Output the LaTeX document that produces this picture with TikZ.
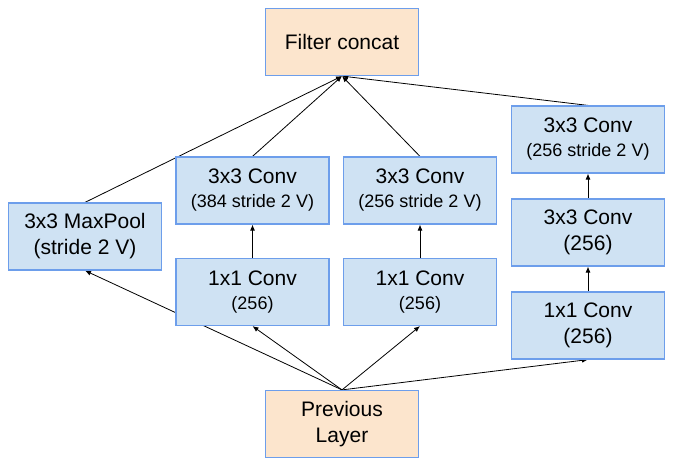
\documentclass[tikz,border=0pt]{standalone}
\usepackage{fontspec}
\setmainfont{Liberation Sans}
\usetikzlibrary{arrows.meta,backgrounds}
\definecolor{boxblue}{HTML}{CFE2F3}
\definecolor{boxorange}{HTML}{FCE5CD}
\definecolor{edgeblue}{HTML}{6D9EEB}
\newcommand{\bigtxt}{\fontsize{21}{26}\selectfont}
\newcommand{\smalltxt}{\fontsize{18}{24}\selectfont}
\tikzset{
  layer/.style={draw=edgeblue, line width=1.2pt, fill=boxblue, minimum width=153pt, minimum height=67pt, inner sep=0pt, align=center, font=\bigtxt},
  io/.style={layer, fill=boxorange},
  conn/.style={draw=black, line width=0.8pt, -{Latex[length=6pt,width=5pt]}}
}
\begin{document}
\begin{tikzpicture}[x=1pt,y=1pt]
\useasboundingbox (0,0) rectangle (677,463);
\node[io] (concat) at (342,421) {Filter concat};
\node[layer] (pool) at (85,226.5) {3x3 MaxPool\\(stride 2 V)};
\node[layer] (cA) at (252.5,272.5) {3x3 Conv\\[-2pt]{\smalltxt (384 stride 2 V)}};
\node[layer] (oA) at (252.5,171) {1x1 Conv\\[-2pt]{\smalltxt (256)}};
\node[layer] (cB) at (420,272.5) {3x3 Conv\\[-2pt]{\smalltxt (256 stride 2 V)}};
\node[layer] (oB) at (420,171) {1x1 Conv\\[-2pt]{\smalltxt (256)}};
\node[layer] (rTop) at (588,323.5) {3x3 Conv\\[-2pt]{\smalltxt (256 stride 2 V)}};
\node[layer] (rMid) at (588,230.5) {3x3 Conv\\(256)};
\node[layer] (rBot) at (588,137.5) {1x1 Conv\\(256)};
\node[io] (prev) at (342,39) {Previous\\Layer};
\begin{scope}[on background layer]
\draw[conn] (prev.north) -- (pool.south);
\draw[conn] (prev.north) -- (oA.south);
\draw[conn] (prev.north) -- (oB.south);
\draw[conn] (prev.north) -- (rBot.south);
\draw[conn] (oA) -- (cA);
\draw[conn] (oB) -- (cB);
\draw[conn] (rBot) -- (rMid);
\draw[conn] (rMid) -- (rTop);
\draw[conn] (pool.north) -- (concat.south);
\draw[conn] (cA.north) -- (concat.south);
\draw[conn] (cB.north) -- (concat.south);
\draw[conn] (rTop.north) -- (concat.south);
\end{scope}
\end{tikzpicture}
\end{document}
